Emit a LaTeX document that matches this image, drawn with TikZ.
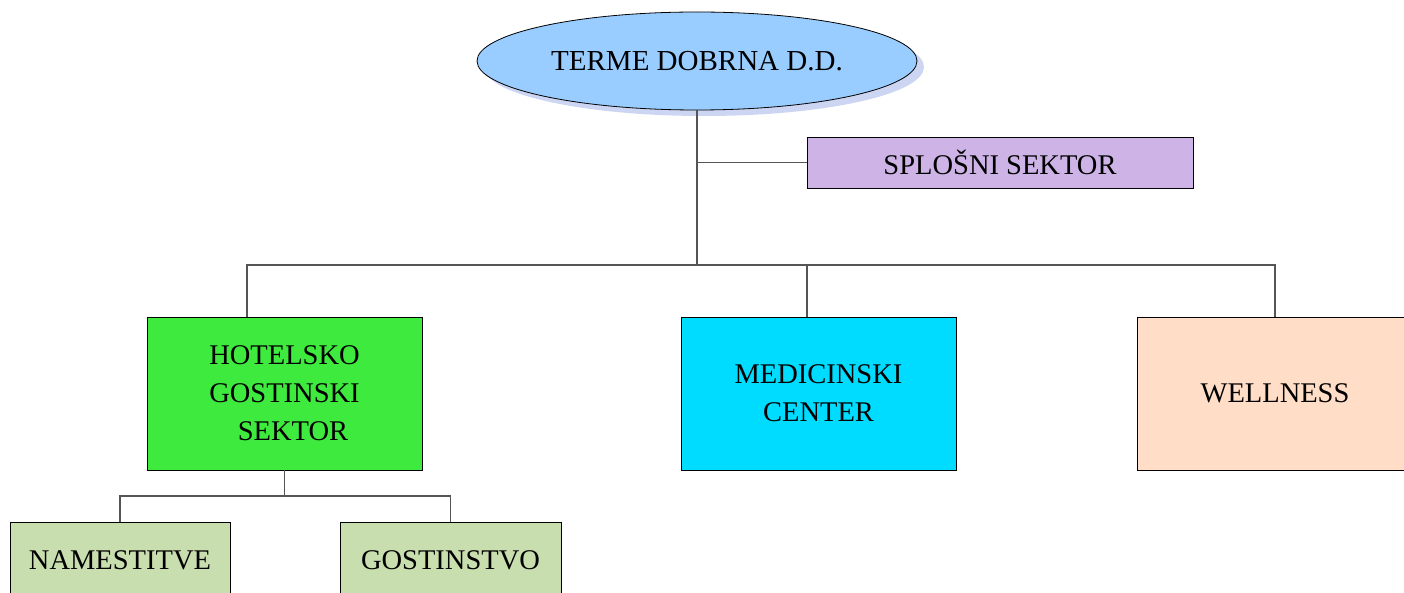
\documentclass[tikz,border=0pt]{standalone}
\usepackage{fontspec}
\setmainfont{Liberation Serif}
\usetikzlibrary{shapes.geometric,shadows}
\definecolor{ellfill}{HTML}{99CCFF}
\definecolor{ellshadow}{HTML}{CCD6F2}
\definecolor{splfill}{HTML}{CDB3E6}
\definecolor{hotfill}{HTML}{3EEA3E}
\definecolor{medfill}{HTML}{00DCFF}
\definecolor{welfill}{HTML}{FFDDC6}
\definecolor{subfill}{HTML}{C9DEAE}
\definecolor{linec}{HTML}{555555}
\tikzset{
  box/.style={draw=black, line width=0.8pt, rectangle, inner sep=0pt, align=center,
    font=\fontsize{28.5}{38}\selectfont},
  conn/.style={draw=linec, line width=1.1pt},
}
\begin{document}
\begin{tikzpicture}[x=1pt,y=-1pt]
\useasboundingbox (0,0) rectangle (1404,593);
\clip (0,0) rectangle (1404,593);
\fill[white] (0,0) rectangle (1404,593);
% root ellipse with shadow
\node[ellipse, draw=black, line width=0.8pt, fill=ellfill, minimum width=440pt, minimum height=98pt,
  inner sep=0pt, font=\fontsize{29}{38}\selectfont,
  general shadow={fill=ellshadow, shadow xshift=7pt, shadow yshift=-6pt}]
  (root) at (697,61) {TERME DOBRNA D.D.};
% boxes
\node[box, fill=splfill, minimum width=386pt, minimum height=51pt] (spl) at (1000,162.5) {SPLOŠNI SEKTOR};
\node[box, fill=hotfill, minimum width=275pt, minimum height=153pt] (hot) at (284.5,393.5) {HOTELSKO\\GOSTINSKI\\\hspace{0.6em}SEKTOR};
\node[box, fill=medfill, minimum width=275pt, minimum height=153pt] (med) at (818.5,393.5) {MEDICINSKI\\CENTER};
\node[box, fill=welfill, minimum width=275pt, minimum height=153pt] (wel) at (1275,393.5) {WELLNESS};
\node[box, fill=subfill, minimum width=220pt, minimum height=76pt] (nam) at (120,560) {NAMESTITVE};
\node[box, fill=subfill, minimum width=221pt, minimum height=76pt] (gos) at (450.5,560) {GOSTINSTVO};
% connectors
\coordinate (bus) at (697,265);
\coordinate (splj) at (697,162.5);
\draw[conn] (root.south) -- (bus);
\draw[conn] (splj) -- (spl.west);
\draw[conn] ([xshift=-37.5pt]hot.north) |- (bus) -| (wel.north);
\draw[conn] ([xshift=-11.5pt]med.north) -- ([xshift=-11.5pt]med.north |- bus);
\coordinate (subbus) at (284.5,496);
\draw[conn] (hot.south) -- (subbus);
\draw[conn] (nam.north) |- (subbus) -| (gos.north);
\end{tikzpicture}
\end{document}
